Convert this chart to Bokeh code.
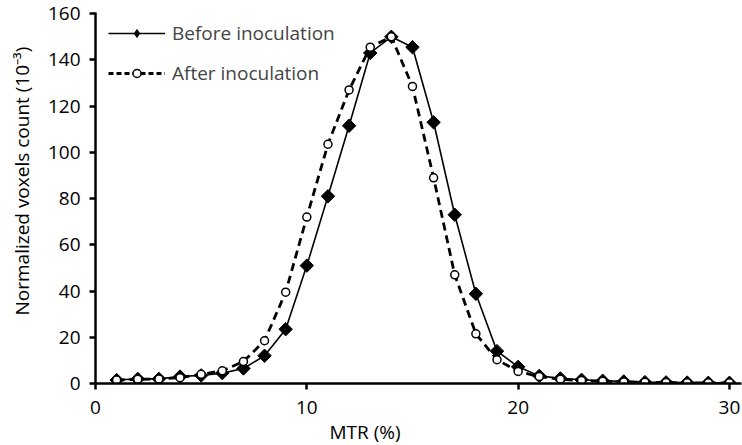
import math
from bokeh.plotting import figure
from bokeh.models import (Range1d, FixedTicker, Legend, LegendItem, Title,
                          ColumnDataSource)
from bokeh.embed import file_html
from bokeh.resources import INLINE

mtr = list(range(1, 31))
before = [1.5, 2.0, 2.0, 3.0, 3.5, 4.5, 6.5, 12.0, 23.5, 51.0,
          81.0, 111.5, 143.0, 150.0, 145.5, 113.0, 73.0, 38.8, 14.0, 7.2,
          3.3, 2.2, 1.6, 1.2, 0.9, 0.6, 0.5, 0.4, 0.3, 0.3]
after = [1.5, 1.8, 2.0, 2.5, 4.0, 5.5, 9.5, 18.5, 39.5, 72.0,
         103.5, 127.0, 145.5, 150.0, 128.5, 89.0, 47.0, 21.5, 10.3, 5.2,
         3.0, 1.8, 1.3, 1.0, 0.7, 0.5, 0.4, 0.3, 0.3, 0.3]
x_ticks = [0, 10, 20, 30]
y_ticks = [0, 20, 40, 60, 80, 100, 120, 140, 160]
labels = ["Before inoculation", "After inoculation"]
x_title = "MTR (%)"
y_title = "Normalized voxels count  (10\u207b\u00b3)"

FONT = "Open Sans"
FS = "19px"

src = ColumnDataSource(data=dict(mtr=mtr, before=before, after=after))

p = figure(width=742, height=445, output_backend="svg", toolbar_location=None,
           x_range=Range1d(0, 30.57), y_range=Range1d(0, 160.5),
           min_border_left=93, min_border_right=1, min_border_top=12, min_border_bottom=62)
p.background_fill_color = None
p.border_fill_color = None
p.outline_line_color = None
p.grid.visible = False

for ax in (p.xaxis[0], p.yaxis[0]):
    ax.axis_line_width = 2.5
    ax.axis_line_color = "black"
    ax.major_tick_line_width = 2.5
    ax.major_tick_line_color = "black"
    ax.major_tick_out = 6
    ax.major_tick_in = 0
    ax.minor_tick_line_color = None
    ax.major_label_text_font = FONT
    ax.major_label_text_font_size = FS
    ax.major_label_text_color = "black"

p.xaxis.ticker = FixedTicker(ticks=x_ticks)
p.yaxis.ticker = FixedTicker(ticks=y_ticks)
p.xaxis.major_label_standoff = 11
p.yaxis.major_label_standoff = 9

p.add_layout(Title(text=x_title, align="left", offset=234, standoff=0,
                   text_font=FONT, text_font_size=FS, text_font_style="normal",
                   text_color="black"), "below")
p.add_layout(Title(text=y_title, align="left", offset=68, standoff=16,
                   vertical_align="top",
                   text_font=FONT, text_font_size=FS, text_font_style="normal",
                   text_color="black"), "left")

l1 = p.line("mtr", "before", source=src, line_color="black", line_width=1.6)
m1 = p.scatter("mtr", "before", source=src, marker="square", size=9.5, angle=math.pi / 4,
               fill_color="black", line_color="black", line_width=1)
l2 = p.line("mtr", "after", source=src, line_color="black", line_width=2.8, line_dash="8 5")
m2 = p.scatter("mtr", "after", source=src, marker="circle", size=8, fill_color="white",
               line_color="black", line_width=1.5)

# legend-key glyphs: same data, hidden in the plot (only the key is drawn)
k1 = p.scatter("mtr", "before", source=src, marker="diamond", size=19,
               fill_color="black", line_color="black", line_width=1, visible=False)
k2 = p.line("mtr", "after", source=src, line_color="black",
            line_width=2.8, line_dash="5 3", visible=False)

legend = Legend(items=[LegendItem(label=labels[0], renderers=[l1, k1]),
                       LegendItem(label=labels[1], renderers=[k2, m2])],
                location=(13, 297), padding=0, margin=0, spacing=14,
                glyph_width=57, glyph_height=20, label_height=20, label_standoff=7,
                label_text_font=FONT, label_text_font_size=FS,
                background_fill_alpha=0, border_line_alpha=0)
p.add_layout(legend)

open("out.html", "w").write(file_html(p, INLINE))
